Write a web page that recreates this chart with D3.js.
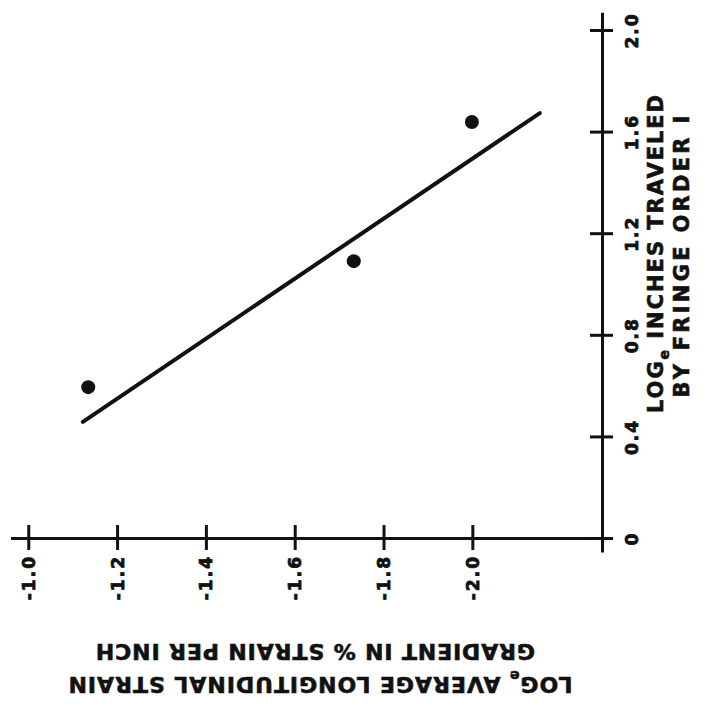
<!DOCTYPE html>
<html lang="en">
	<head>
		<meta charset="utf-8">
		<title>Log inches traveled vs log strain gradient</title>
		<script src="https://d3js.org/d3.v7.min.js"></script>
		<style type="text/css">
			body { margin: 0; background: #ffffff; }
			text { font-family: "DejaVu Sans", sans-serif; font-weight: bold; fill: #111; }
		</style>
	</head>
	<body>
		<script type="text/javascript">

			//Data
			var strainGradient = [-1.135, -1.733, -1.999];
			var inchesTraveled = [0.594, 1.09, 1.638];

			//Fitted straight line, its two end points
			var fitX = [-1.123, -2.152];
			var fitY = [0.457, 1.673];

			//Tick values and labels
			var xTicks = [-1.0, -1.2, -1.4, -1.6, -1.8, -2.0];
			var xTickLabels = ["-1.0", "-1.2", "-1.4", "-1.6", "-1.8", "-2.0"];
			var yTicks = [0, 0.4, 0.8, 1.2, 1.6, 2.0];
			var yTickLabels = ["0", "0.4", "0.8", "1.2", "1.6", "2.0"];

			//Width and height
			var w = 712;
			var h = 710;

			//Scales (the page is turned, so the strain axis runs left to right)
			var xScale = d3.scaleLinear()
					.domain([-0.96, -2.292])
					.range([10.5, 602]);

			var yScale = d3.scaleLinear()
					.domain([-0.055, 2.07])
					.range([552, 12.2]);

			var svg = d3.select("body")
						.append("svg")
						.attr("width", w)
						.attr("height", h);

			//X axis
			var xAxis = d3.axisBottom()
						.scale(xScale)
						.tickValues(xTicks)
						.tickSizeOuter(0)
						.tickFormat(function(d, i) { return xTickLabels[i]; });

			var gx = svg.append("g")
				.attr("transform", "translate(0," + yScale(0) + ")")
				.call(xAxis);

			gx.select(".domain").attr("stroke", "#111").attr("stroke-width", 3);
			gx.selectAll(".tick line")
				.attr("stroke", "#111")
				.attr("stroke-width", 3)
				.attr("y1", -13)
				.attr("y2", 12);
			gx.selectAll(".tick text")
				.attr("x", null).attr("y", null).attr("dy", null)
				.attr("transform", "translate(0,17) rotate(-90)")
				.attr("text-anchor", "end")
				.attr("dominant-baseline", "central")
				.style("font-size", "17px")
				.style("font-weight", "bold")
				.style("letter-spacing", "2px")
				.attr("fill", "#111")
				.attr("stroke", "#111")
				.attr("stroke-width", 0.8);

			//Y axis
			var yAxis = d3.axisRight()
						.scale(yScale)
						.tickValues(yTicks)
						.tickSizeOuter(0)
						.tickFormat(function(d, i) { return yTickLabels[i]; });

			var gy = svg.append("g")
				.attr("transform", "translate(602,0)")
				.call(yAxis);

			gy.select(".domain").attr("stroke", "#111").attr("stroke-width", 3);
			gy.selectAll(".tick line")
				.attr("stroke", "#111")
				.attr("stroke-width", 3)
				.attr("x1", -12)
				.attr("x2", 11);
			gy.selectAll(".tick text")
				.attr("x", null).attr("y", null).attr("dy", null)
				.attr("transform", "translate(30,0) rotate(-90)")
				.attr("text-anchor", "middle")
				.attr("dominant-baseline", "central")
				.style("font-size", "17px")
				.style("font-weight", "bold")
				.style("letter-spacing", "2px")
				.attr("fill", "#111")
				.attr("stroke", "#111")
				.attr("stroke-width", 0.8);

			//Fitted line
			svg.append("line")
				.attr("x1", xScale(fitX[0]))
				.attr("y1", yScale(fitY[0]))
				.attr("x2", xScale(fitX[1]))
				.attr("y2", yScale(fitY[1]))
				.attr("stroke", "#111")
				.attr("stroke-width", 4)
				.attr("stroke-linecap", "round");

			//Points
			svg.selectAll("circle")
			   .data(strainGradient)
			   .enter()
			   .append("circle")
			   .attr("cx", function(d) { return xScale(d); })
			   .attr("cy", function(d, i) { return yScale(inchesTraveled[i]); })
			   .attr("r", 7)
			   .attr("fill", "#111");

			//stretch a title line to a given length with letter spacing
			function fitText(t, target) {
				var n = t.text().length;
				var len = t.node().getComputedTextLength();
				t.attr("letter-spacing", ((target - len) / n) + "px");
			}

			//Title with subscript e
			function logTitle(t, rest) {
				t.append("tspan").text("LOG");
				t.append("tspan").attr("font-size", "14px").attr("dy", "6").text("e");
				t.append("tspan").attr("dy", "-6").text(rest);
			}

			//Right title (reads bottom to top)
			var r1 = svg.append("text")
				.attr("transform", "translate(663,253) rotate(-90)")
				.attr("text-anchor", "middle")
				.attr("font-size", "21px")
				.attr("stroke", "#111")
				.attr("stroke-width", 0.6);
			logTitle(r1, " INCHES TRAVELED");
			fitText(r1, 320);

			var r2 = svg.append("text")
				.attr("transform", "translate(689,255) rotate(-90)")
				.attr("text-anchor", "middle")
				.attr("font-size", "21px")
				.attr("stroke", "#111")
				.attr("stroke-width", 0.6)
				.text("BY FRINGE ORDER I");
			fitText(r2, 285);

			//Bottom title (upside down)
			var b1 = svg.append("text")
				.attr("transform", "translate(320,677) rotate(180)")
				.attr("text-anchor", "middle")
				.attr("font-size", "22px")
				.attr("stroke", "#111")
				.attr("stroke-width", 0.6);
			logTitle(b1, " AVERAGE LONGITUDINAL STRAIN");
			fitText(b1, 505);

			var b2 = svg.append("text")
				.attr("transform", "translate(315,644) rotate(180)")
				.attr("text-anchor", "middle")
				.attr("font-size", "22px")
				.attr("stroke", "#111")
				.attr("stroke-width", 0.6)
				.text("GRADIENT IN % STRAIN PER INCH");
			fitText(b2, 440);

		</script>
	</body>
</html>
